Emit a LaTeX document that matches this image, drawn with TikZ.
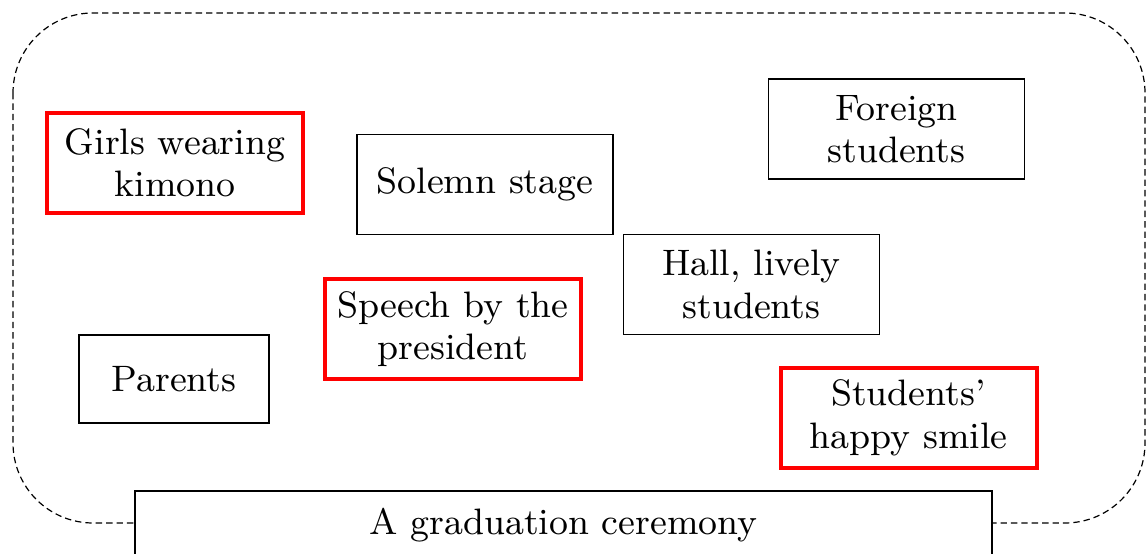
\documentclass[tikz,border=0pt]{standalone}
\usetikzlibrary{positioning}
\begin{document}
\begin{tikzpicture}[x=0.25pt,y=-0.25pt,
  every node/.style={font=\fontsize{9.2}{10.6}\selectfont, align=center, inner sep=0pt},
  plainbox/.style={draw=black, line width=0.45pt, minimum width=64pt, minimum height=25pt},
  keybox/.style={draw=red, line width=1pt, minimum width=64pt, minimum height=25pt},
  scene/.style={draw=black, line width=0.3pt, dash pattern=on 1.6pt off 1pt, rounded corners=20pt}]
  \clip (0,0) rectangle (1146,554);
  \fill[white] (0,0) rectangle (1146,554);

  % dashed frame around the scene
  \draw[scene] (13,13) rectangle (1145,523);

  % elements of the scene
  \node[keybox]   (girls)   at (175,163)   {Girls wearing\\kimono};
  \node[plainbox] (stage)   at (485,184.5) {Solemn stage};
  \node[plainbox] (foreign) at (896.5,129) {Foreign\\students};
  \node[plainbox] (hall)    at (751.5,284.5) {Hall, lively\\students};
  \node[keybox]   (speech)  at (453,329)   {Speech by the\\president};
  \node[plainbox, minimum width=47.5pt, minimum height=22pt] (parents) at (174,379) {Parents};
  \node[keybox]   (smile)   at (908.5,418) {Students'\\happy smile};

  % title box over the lower edge of the frame
  \node[draw=black, line width=0.45pt, fill=white, anchor=base,
        minimum width=214.25pt, text height=11pt, text depth=12pt]
        (title) at (563.5,535) {A graduation ceremony};
\end{tikzpicture}
\end{document}
